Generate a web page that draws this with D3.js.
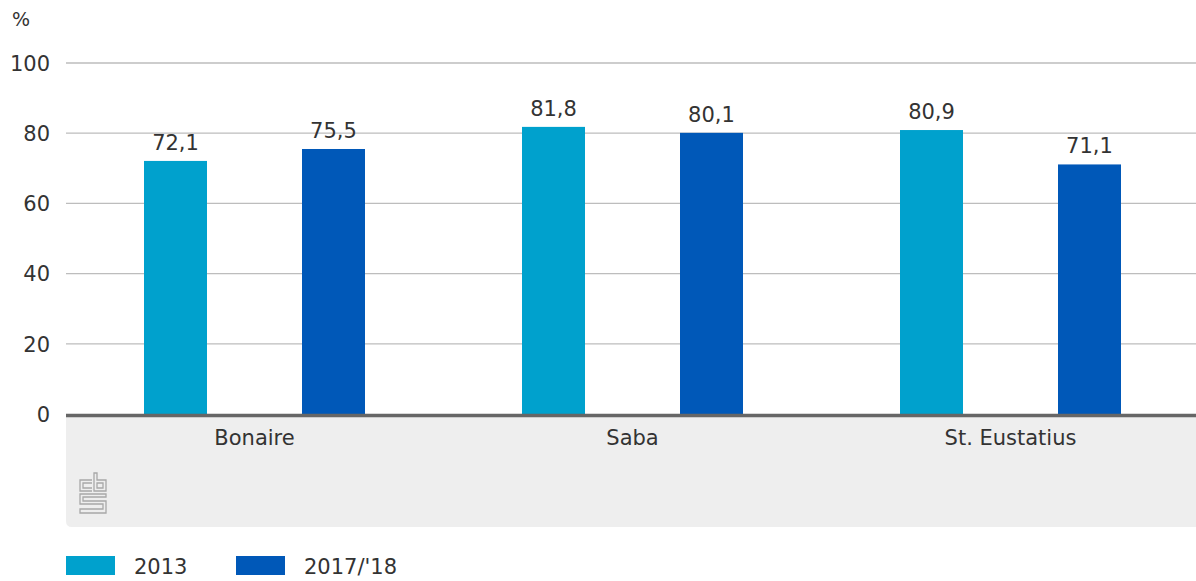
<!DOCTYPE html>
<html><head><meta charset="utf-8">
<script src="https://cdn.jsdelivr.net/npm/d3@7"></script>
<style>
html,body{margin:0;padding:0;background:#fff;}
svg text{font-family:"DejaVu Sans",sans-serif;fill:#333;}
</style></head>
<body><svg id="c" width="1196" height="581"></svg>
<script>
const categories = ["Bonaire", "Saba", "St. Eustatius"];
const seriesNames = ["2013", "2017/'18"];
const values2013 = [72.1, 81.8, 80.9];
const values2017 = [75.5, 80.1, 71.1];
const yTicks = [0, 20, 40, 60, 80, 100];
const colors = ["#00a1cd", "#0058b8"];

(function(){
const FONT = "'DejaVu Sans',sans-serif";
const FS = 21;
const svg = d3.select("#c");
const mLeft = 66, mRight = 1196, mTop = 63, mBottom = 414;
const x = d3.scaleBand().domain(categories).range([65.5, 1199.5]);
const y = d3.scaleLinear().domain([0, 100]).range([mBottom, mTop]);
const fmt = v => d3.format(".1f")(v).replace(".", ",");

// grey panel under axis
svg.append("path")
  .attr("d", `M${mLeft},${mBottom} H${mRight} V527 H${mLeft+6} Q${mLeft},527 ${mLeft},521 Z`)
  .attr("fill", "#eeeeee");

// gridlines
svg.append("g").selectAll("line").data(yTicks.filter(d => d > 0)).join("line")
  .attr("x1", mLeft).attr("x2", mRight)
  .attr("y1", d => y(d)).attr("y2", d => y(d))
  .attr("stroke", "#bdbdbd").attr("stroke-width", 1.3);

// y axis labels
const yAxis = d3.axisLeft(y).tickValues(yTicks).tickSize(0).tickPadding(16);
const ya = svg.append("g").attr("transform", `translate(${mLeft},0)`).call(yAxis);
ya.select(".domain").remove();
ya.selectAll("text").attr("font-size", FS).attr("fill", "#333")
  .style("font-family", FONT).attr("dy", "0.35em");

svg.append("text").attr("x", 12).attr("y", 26).attr("font-size", 19).text("%");

// bars
const data = categories.map((c, i) => ({c, vals: [values2013[i], values2017[i]]}));
const groups = svg.append("g").selectAll("g").data(data).join("g")
  .attr("transform", d => `translate(${x(d.c) + x.bandwidth()/2},0)`);
const barW = 63;
groups.selectAll("rect").data(d => d.vals.map((v, j) => ({v, j}))).join("rect")
  .attr("x", d => (d.j === 0 ? -79 : 79) - barW/2)
  .attr("width", barW)
  .attr("y", d => y(d.v))
  .attr("height", d => mBottom - y(d.v))
  .attr("fill", d => colors[d.j]);
groups.selectAll("text.val").data(d => d.vals.map((v, j) => ({v, j}))).join("text")
  .attr("class", "val")
  .attr("x", d => (d.j === 0 ? -79 : 79))
  .attr("y", d => y(d.v) - 11)
  .attr("text-anchor", "middle").attr("font-size", FS)
  .text(d => fmt(d.v));

// baseline
svg.append("line").attr("x1", mLeft).attr("x2", mRight).attr("y1", mBottom + 1.5).attr("y2", mBottom + 1.5)
  .attr("stroke", "#666").attr("stroke-width", 3.5);

// x axis labels
const xAxis = d3.axisBottom(x).tickSize(0).tickPadding(0);
const xa = svg.append("g").attr("transform", `translate(0,${mBottom + 31})`).call(xAxis);
xa.select(".domain").remove();
xa.selectAll("text").attr("font-size", FS).attr("fill", "#333").attr("dy", 0)
  .style("font-family", FONT);

// cbs logo (outline)
const logo = svg.append("g").attr("transform", "translate(79,472)")
  .attr("fill", "none").attr("stroke", "#a8a8a8").attr("stroke-width", 1.3);
logo.append("path").attr("d", "M13,8 H1 V19 H13 M13,11 H4 V16 H13");
logo.append("path").attr("d", "M15,1 V19 H27 V8 H18 V1 Z M18,11 H24 V16 H18 Z");
logo.append("path").attr("d", "M27,22 H1 V32 H24 V37 H1 V41 H27 V29 H4 V25 H27 Z");

// legend
const lg = svg.append("g").selectAll("g").data(seriesNames).join("g")
  .attr("transform", (d, i) => `translate(${66 + i * 170},556)`);
lg.append("rect").attr("width", 49).attr("height", 19).attr("fill", (d, i) => colors[i]);
lg.append("text").attr("x", 68).attr("y", 18).attr("font-size", FS).text(d => d);
})();
</script></body></html>
